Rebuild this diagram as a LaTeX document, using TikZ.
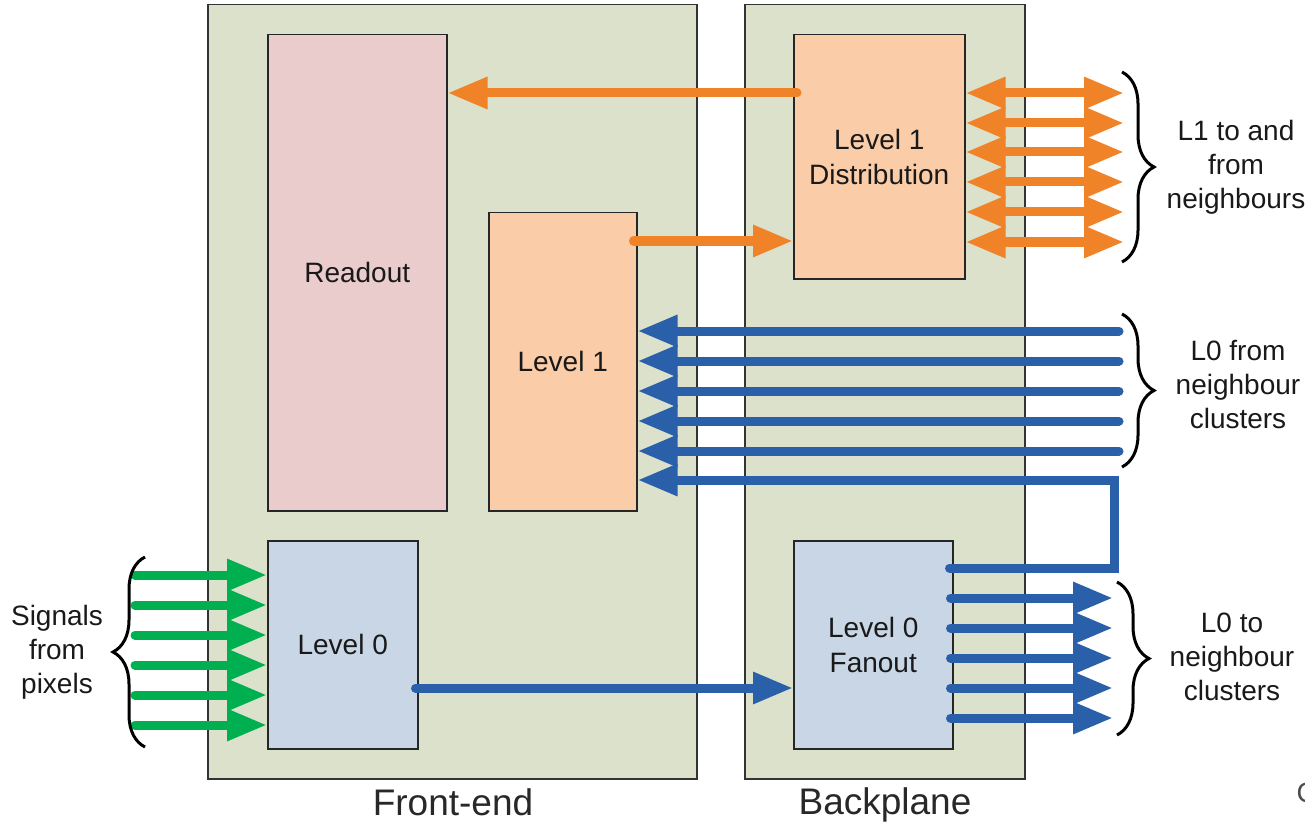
\documentclass[tikz,border=0pt]{standalone}
\usepackage{fontspec}
\setmainfont{Liberation Sans}
\usepackage{tikz}
\usetikzlibrary{arrows.meta}
\usetikzlibrary{positioning,decorations.pathreplacing}
\definecolor{panelcol}{RGB}{220,225,203}
\definecolor{readoutcol}{RGB}{234,204,204}
\definecolor{levelonecol}{RGB}{250,204,168}
\definecolor{levelzerocol}{RGB}{200,214,230}
\definecolor{arrorange}{RGB}{240,130,40}
\definecolor{arrblue}{RGB}{42,96,170}
\definecolor{arrgreen}{RGB}{0,176,80}
\definecolor{labelgray}{RGB}{40,40,40}

\begin{document}
\begin{tikzpicture}[
		x=1pt, y=-1pt,
		Panel/.style={draw=black!80,fill=panelcol,line width=1.5pt,inner sep=0pt,anchor=north west},
		Block/.style={draw=black!85,line width=1.5pt,inner sep=0pt,anchor=north west,align=center,text=black!90,font=\fontsize{28}{35}\selectfont},
		SideText/.style={align=center,text=black!90,font=\fontsize{28}{34}\selectfont},
		BottomText/.style={text=labelgray,font=\fontsize{37}{44}\selectfont},
		MyTip/.tip={Triangle[length=40pt,width=30pt]},
		OrangeArrow/.style={draw=arrorange,line width=9pt,line cap=round,-MyTip},
		OrangeBoth/.style={draw=arrorange,line width=9pt,MyTip-MyTip},
		BlueArrow/.style={draw=arrblue,line width=9pt,line cap=round,line join=miter,-MyTip},
		GreenArrow/.style={draw=arrgreen,line width=9pt,line cap=round,-MyTip},
		Brace/.style={draw=black,line width=3pt,decorate,decoration={brace,amplitude=32pt}}
		]

		\useasboundingbox (0,0) rectangle (1305,826);

		% the two boards
		\node[Panel, minimum width=489pt, minimum height=774pt] (FrontEnd) at (207,4) {};
		\node[Panel, minimum width=280pt, minimum height=774pt] (BackPlane) at (744,4) {};

		\node[BottomText] (FrontEndLabel) at (453,802) {Front-end};
		\node[BottomText] (BackPlaneLabel) at (885,805) {Backplane};

		% blocks
		\node[Block, fill=readoutcol, minimum width=179pt, minimum height=476pt] (Readout) at (267,34) {Readout};
		\node[Block, fill=levelonecol, minimum width=148pt, minimum height=298pt] (LevelOne) at (488,212) {Level 1};
		\node[Block, fill=levelonecol, minimum width=171pt, minimum height=244pt] (Distribution) at (793,34) {Level 1\\Distribution};
		\node[Block, fill=levelzerocol, minimum width=150pt, minimum height=208pt] (LevelZero) at (267,540) {Level 0};
		\node[Block, fill=levelzerocol, minimum width=159pt, minimum height=208pt] (Fanout) at (793,540) {Level 0\\Fanout};

		% free ends of the links
		\coordinate (PixIn) at (135,0);
		\coordinate (LOneOut) at (1124,0);
		\coordinate (LZeroIn) at (1119,0);
		\coordinate (LoopTurn) at (1114,0);
		\coordinate (LZeroOut) at (1113,0);

		% level 1 links
		\draw[OrangeArrow] ([xshift=4pt]Distribution.west |- 0,93) -- (Readout.east |- 0,93);
		\draw[OrangeArrow] ([xshift=-4pt]LevelOne.east |- 0,241) -- (Distribution.west |- 0,241);
		\foreach \y in {93,123,152,182,212,242}
			\draw[OrangeBoth] (Distribution.east |- 0,\y) -- (LOneOut |- 0,\y);

		% level 0 links
		\foreach \y in {331,361,391,421,451}
			\draw[BlueArrow] (LZeroIn |- 0,\y) -- (LevelOne.east |- 0,\y);
		\draw[BlueArrow] ([xshift=-4pt]Fanout.east |- 0,568) -| (LoopTurn |- 0,480) -- (LevelOne.east |- 0,480);
		\foreach \y in {598,628,658,688,718}
			\draw[BlueArrow] ([xshift=-3pt]Fanout.east |- 0,\y) -- (LZeroOut |- 0,\y);
		\draw[BlueArrow] ([xshift=-3pt]LevelZero.east |- 0,688) -- (Fanout.west |- 0,688);

		\foreach \y in {575,605,635,665,695,725}
			\draw[GreenArrow] (PixIn |- 0,\y) -- (LevelZero.west |- 0,\y);

		% braces and their texts
		\draw[Brace] (1122,72) -- (1122,262);
		\draw[Brace] (1122,314) -- (1122,467);
		\draw[Brace] (1117,582) -- (1117,735);
		\draw[Brace] (145,747) -- (145,557);

		\node[SideText] (LOneText) at (1236,167) {L1 to and\\from\\neighbours};
		\node[SideText] (LZeroInText) at (1238,385) {L0 from\\neighbour\\clusters};
		\node[SideText] (LZeroOutText) at (1232,657) {L0 to\\neighbour\\clusters};
		\node[SideText] (PixText) at (57,652) {Signals\\from\\pixels};

		\node[text=black!70, anchor=west, font=\fontsize{28}{34}\selectfont] (CutText) at (1293,793) {C};

		\end{tikzpicture}
\end{document}
